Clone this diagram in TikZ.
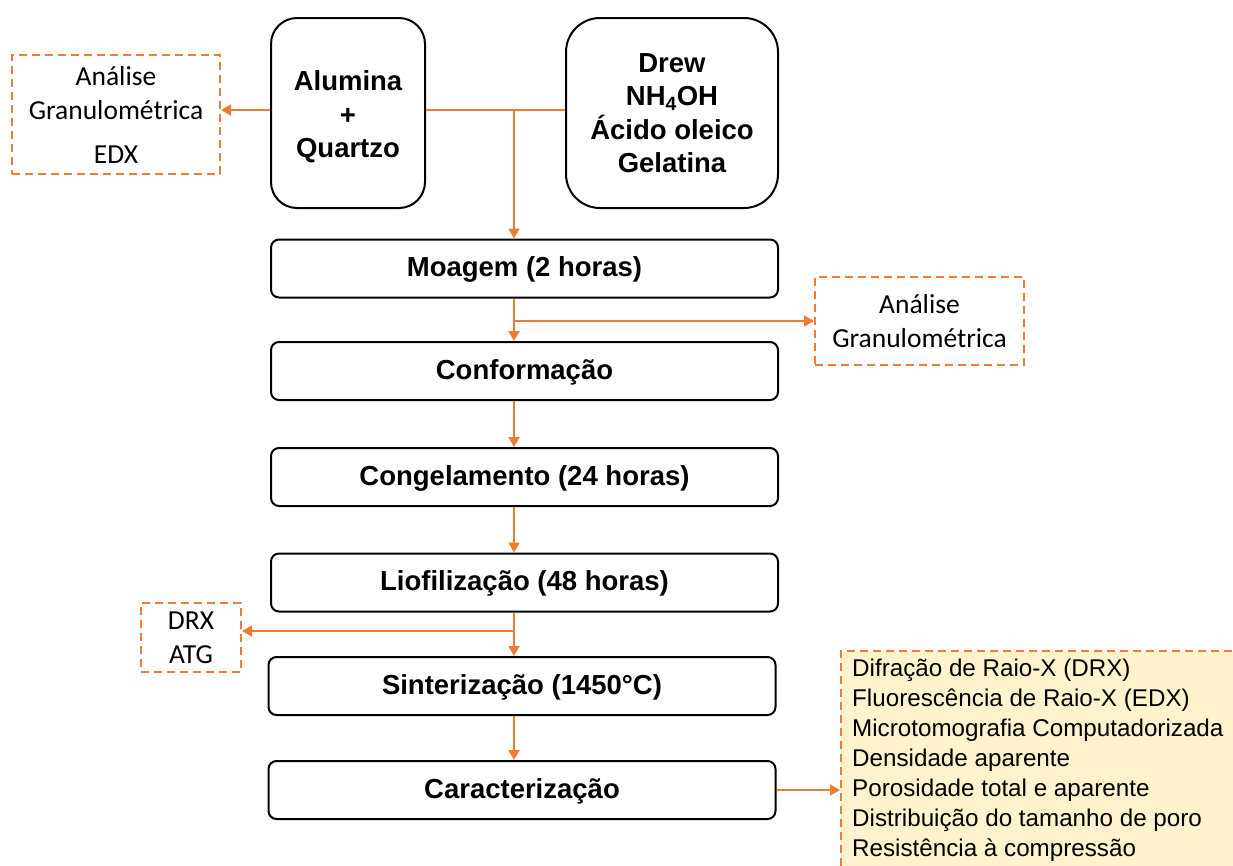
\documentclass[tikz,border=0pt]{standalone}
\usepackage{fontspec}
\setmainfont{Liberation Sans}
\newfontfamily\calib{Carlito}
\usetikzlibrary{arrows.meta,calc}
\definecolor{org}{HTML}{ED7D31}
\definecolor{ylw}{HTML}{FFF2CC}
\tikzset{
  x=1pt,y=-1pt,
  proc/.style={draw=black,line width=2pt,rounded corners=8pt,minimum width=507pt,minimum height=58pt,inner sep=0pt,font=\fontsize{27.5}{33}\selectfont\bfseries,align=center,text depth=3pt},
  big/.style={draw=black,line width=2pt,inner sep=0pt,font=\fontsize{27.5}{33.5}\selectfont\bfseries,align=center},
  dbox/.style={draw=org,line width=2pt,dash pattern=on 8pt off 5pt,inner sep=0pt,font=\calib\fontsize{27.5}{34}\selectfont,align=center},
  ln/.style={draw=org,line width=2pt},
  arr/.style={ln,-{Triangle[width=11pt,length=10pt]}}
}
\begin{document}
\begin{tikzpicture}
\useasboundingbox (0,0) rectangle (1233,865);
\clip (0,0) rectangle (1233,865);
% top boxes
\node[big,rounded corners=26pt,minimum width=154pt,minimum height=190pt] (alum) at (348,113) {\\[-6pt]Alumina\\+\\Quartzo};
\node[big,rounded corners=34pt,minimum width=212pt,minimum height=190pt] (drew) at (672,113) {Drew\\NH\textsubscript{4}OH\\Ácido oleico\\Gelatina};
\node[dbox,minimum width=208pt,minimum height=119pt] (lbox) at (116,114.5) {Análise\\Granulométrica\\[10pt]EDX};
% process boxes
\node[proc] (moag) at (524.5,268.5) {Moagem (2 horas)};
\node[proc] (conf) at (524.5,371) {Conformação};
\node[proc] (cong) at (524.5,477) {Congelamento (24 horas)};
\node[proc] (liof) at (524.5,582.5) {Liofilização (48 horas)};
\node[proc] (sint) at (522,686) {Sinterização (1450°C)};
\node[proc] (carac) at (522,790) {Caracterização};
% side boxes
\node[dbox,minimum width=209pt,minimum height=88pt] (rbox) at (919.5,321) {Análise\\Granulométrica};
\node[dbox,minimum width=100pt,minimum height=69pt] (abox) at (191,637.5) {DRX\\ATG};
\node[draw=org,fill=ylw,line width=2pt,dash pattern=on 8pt off 5pt,minimum width=420pt,minimum height=240pt,anchor=north west,inner sep=0pt] (ybox) at (840,650) {};
\node[anchor=north west,inner sep=0pt,align=left,font=\fontsize{24.2}{30}\selectfont] (ytxt) at (852,659) {Difração de Raio-X (DRX)\\Fluorescência de Raio-X (EDX)\\Microtomografia Computadorizada\\Densidade aparente\\Porosidade total e aparente\\Distribuição do tamanho de poro\\Resistência à compressão};
% connectors
\coordinate (sp) at (514,110);
\coordinate (b2) at (514,631);
\draw[ln] (alum.east |- sp) -- (drew.west |- sp);
\draw[arr] (alum.west |- sp) -- (lbox.east |- sp);
\draw[arr] (sp) -- (sp |- moag.north);
\draw[arr] (sp |- moag.south) -- (sp |- conf.north);
\draw[arr] (sp |- rbox.west) -- (rbox.west);
\draw[arr] (sp |- conf.south) -- (sp |- cong.north);
\draw[arr] (sp |- cong.south) -- (sp |- liof.north);
\draw[arr] (sp |- liof.south) -- (sp |- sint.north);
\draw[arr] (sp |- sint.south) -- (sp |- carac.north);
\draw[arr] (b2) -- (abox.east |- b2);
\draw[arr] (carac.east) -- (ybox.west |- carac.east);
\end{tikzpicture}
\end{document}
